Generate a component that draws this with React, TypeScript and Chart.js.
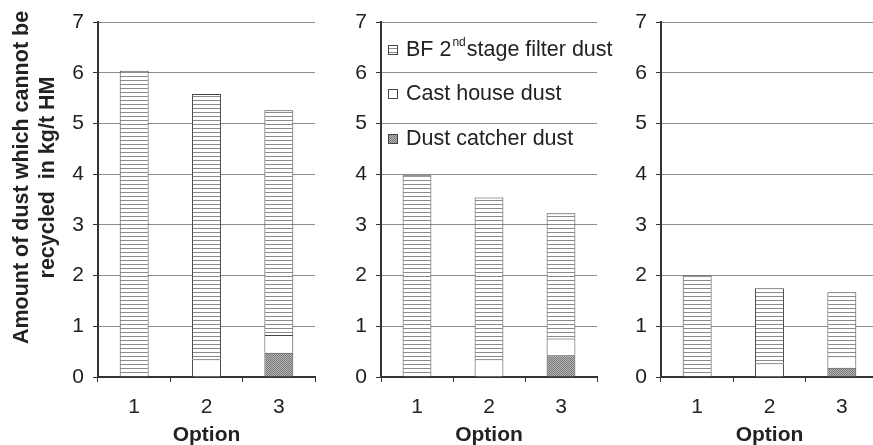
import React, { useEffect, useRef } from 'react';
import { Chart, registerables } from 'chart.js';
Chart.register(...registerables);

const options = ['1', '2', '3'];
const yMin = 0;
const yMax = 7;
const yStep = 1;
const seriesNames = ['Dust catcher dust', 'Cast house dust', 'BF 2nd stage filter dust'];
const yTitleLines = ['Amount of dust which cannot be', 'recycled  in kg/t HM'];
const xTitle = 'Option';

// Panel 1
const p1DustCatcher = [0, 0, 0.48];
const p1CastHouse = [0, 0.35, 0.35];
const p1BF = [6.04, 5.23, 4.43];
// Panel 2
const p2DustCatcher = [0, 0, 0.43];
const p2CastHouse = [0, 0.35, 0.33];
const p2BF = [3.98, 3.19, 2.47];
// Panel 3
const p3DustCatcher = [0, 0, 0.18];
const p3CastHouse = [0, 0.27, 0.23];
const p3BF = [2.0, 1.48, 1.26];

const FONT = "'Liberation Sans', Arial, Helvetica, sans-serif";
const TEXT = '#222';

function makeLinePattern(): CanvasPattern | string {
  const c = document.createElement('canvas');
  c.width = 8; c.height = 4;
  const g = c.getContext('2d');
  if (!g) return '#ddd';
  g.fillStyle = '#fff'; g.fillRect(0, 0, 8, 4);
  g.fillStyle = '#8a8a8a'; g.fillRect(0, 0, 8, 1);
  return g.createPattern(c, 'repeat') || '#ddd';
}
function makeDotPattern(): CanvasPattern | string {
  const c = document.createElement('canvas');
  c.width = 2; c.height = 2;
  const g = c.getContext('2d');
  if (!g) return '#999';
  g.fillStyle = '#b4b4b4'; g.fillRect(0, 0, 2, 2);
  g.fillStyle = '#7a7a7a'; g.fillRect(0, 0, 1, 1); g.fillRect(1, 1, 1, 1);
  return g.createPattern(c, 'repeat') || '#999';
}

type PanelProps = {
  left: number; width: number; yWidth: number; padRight: number;
  dc: number[]; ch: number[]; bf: number[]; showYTitle: boolean; showLegend: boolean;
};

function Panel(p: PanelProps) {
  const ref = useRef<HTMLCanvasElement | null>(null);
  useEffect(() => {
    if (!ref.current) return;
    const linePat = makeLinePattern();
    const dotPat = makeDotPattern();
    const fills = [dotPat, '#ffffff', linePat];
    const overlayPlugin = {
      id: 'overlayText',
      afterDraw(chart: any) {
        const ctx = chart.ctx as CanvasRenderingContext2D;
        ctx.save();
        if (p.showYTitle) {
          ctx.fillStyle = TEXT;
          ctx.font = `bold 21.5px ${FONT}`;
          ctx.textAlign = 'center';
          ctx.textBaseline = 'alphabetic';
          const baseX = [28, 54];
          yTitleLines.forEach((line, i) => {
            ctx.save();
            ctx.translate(baseX[i], 177.5);
            ctx.rotate(-Math.PI / 2);
            ctx.fillText(line, 0, 0);
            ctx.restore();
          });
        }
        if (p.showLegend) {
          const boxX = 70, textX = 88;
          const rows = [
            { y: 50, fill: linePat, idx: 2 },
            { y: 94, fill: '#ffffff', idx: 1 },
            { y: 139, fill: dotPat, idx: 0 },
          ];
          rows.forEach((r) => {
            ctx.fillStyle = r.fill as any;
            ctx.fillRect(boxX, r.y - 5, 10, 10);
            ctx.strokeStyle = '#444';
            ctx.lineWidth = 1;
            ctx.strokeRect(boxX + 0.5, r.y - 4.5, 9, 9);
            ctx.fillStyle = TEXT;
            ctx.textBaseline = 'middle';
            ctx.textAlign = 'left';
            ctx.font = `21.5px ${FONT}`;
            if (r.idx === 2) {
              const a = 'BF 2';
              ctx.fillText(a, textX, r.y);
              let x = textX + ctx.measureText(a).width + 1;
              ctx.font = `12px ${FONT}`;
              ctx.fillText('nd', x, r.y - 7);
              x += ctx.measureText('nd').width + 1;
              ctx.font = `21.5px ${FONT}`;
              ctx.fillText('stage filter dust', x, r.y);
            } else {
              ctx.fillText(seriesNames[r.idx], textX, r.y);
            }
          });
        }
        ctx.restore();
      },
    };
    const datasets = [p.dc, p.ch, p.bf].map((d, i) => ({
      label: seriesNames[i],
      data: d,
      backgroundColor: fills[i] as any,
      borderColor: '#444',
      borderWidth: 1,
      borderSkipped: 'start',
      categoryPercentage: 1,
      barPercentage: 0.4,
    }));
    const chart = new Chart(ref.current, {
      type: 'bar',
      data: { labels: options, datasets },
      options: {
        animation: false,
        responsive: false,
        maintainAspectRatio: false,
        layout: { padding: { top: 22, right: p.padRight, bottom: 0, left: 0 } },
        plugins: { legend: { display: false }, tooltip: { enabled: false } },
        scales: {
          x: {
            stacked: true,
            offset: true,
            grid: { display: true, drawOnChartArea: false, drawTicks: true, tickLength: 5, tickColor: '#333', offset: true },
            border: { display: true, color: '#333', width: 2 },
            ticks: { color: TEXT, font: { family: FONT, size: 21 }, padding: 13, maxRotation: 0 },
            title: { display: true, text: xTitle, color: TEXT, font: { family: FONT, size: 21, weight: 'bold', lineHeight: 1 }, padding: { top: 0, bottom: -1 } },
            afterFit: (s: any) => { s.height = 68; },
          },
          y: {
            stacked: true,
            min: yMin, max: yMax,
            grid: { color: '#8c8c8c', lineWidth: 1, tickLength: 5, tickColor: '#333' },
            border: { display: true, color: '#333', width: 2 },
            ticks: { stepSize: yStep, color: TEXT, font: { family: FONT, size: 21 }, padding: 9 },
            title: { display: false },
            afterFit: (s: any) => { s.width = p.yWidth; },
          },
        },
      } as any,
      plugins: [overlayPlugin],
    });
    return () => chart.destroy();
  }, []);
  return (
    <div style={{ position: 'absolute', left: p.left, top: 0, width: p.width, height: 445 }}>
      <canvas ref={ref} width={p.width} height={445} style={{ display: 'block' }} />
    </div>
  );
}

export default function App() {
  return (
    <div style={{ position: 'absolute', left: 0, top: 0, width: 873, height: 445, overflow: 'hidden', background: '#fff' }}>
      <Panel left={0} width={318} yWidth={98} padRight={3} dc={p1DustCatcher} ch={p1CastHouse} bf={p1BF} showYTitle={true} showLegend={false} />
      <Panel left={318} width={340} yWidth={63} padRight={61} dc={p2DustCatcher} ch={p2CastHouse} bf={p2BF} showYTitle={false} showLegend={true} />
      <Panel left={600} width={280} yWidth={61} padRight={2} dc={p3DustCatcher} ch={p3CastHouse} bf={p3BF} showYTitle={false} showLegend={false} />
    </div>
  );
}
